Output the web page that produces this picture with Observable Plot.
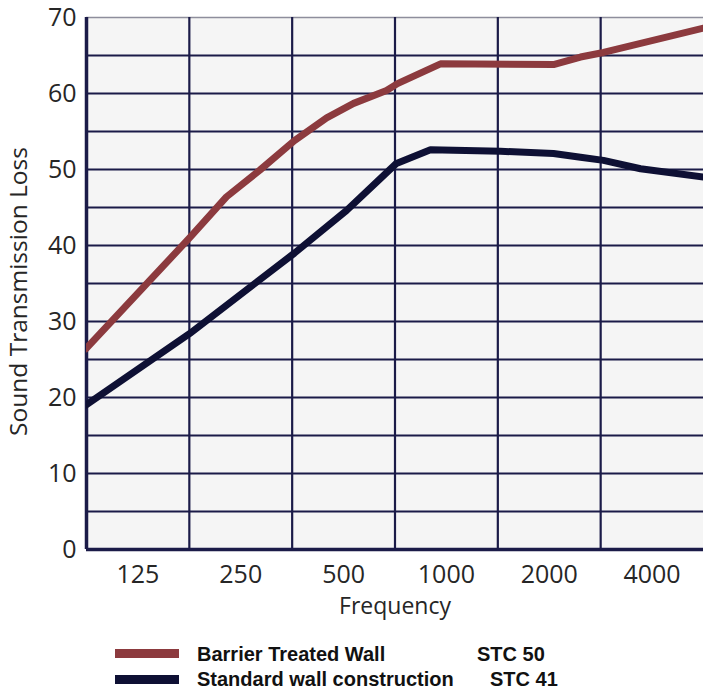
<!DOCTYPE html>
<html>
<head>
<meta charset="utf-8">
<script src="https://cdn.jsdelivr.net/npm/d3@7"></script>
<script src="https://cdn.jsdelivr.net/npm/@observablehq/plot@0.6"></script>
<style>
  html, body { margin: 0; padding: 0; background: #ffffff; }
  #legend { position: relative; width: 703px; height: 55px; font-family: "Liberation Sans", Arial, sans-serif; font-weight: bold; font-size: 20px; color: #111111; }
  #legend div { position: absolute; white-space: nowrap; line-height: 20px; }
</style>
</head>
<body>
<div id="chart"></div>
<div id="legend"></div>
<script>
// ---- data ----
const freqTicks = [125, 250, 500, 1000, 2000, 4000];
const lossTicks = [0, 10, 20, 30, 40, 50, 60, 70];
const lossGrid = [0, 5, 10, 15, 20, 25, 30, 35, 40, 45, 50, 55, 60, 65, 70];

const barrierFreq = [88, 177, 227, 284, 359, 446, 535, 668, 719, 961, 2058, 2469, 2883, 5657];
const barrierLoss = [26.4, 41, 46.4, 49.9, 53.8, 56.8, 58.7, 60.4, 61.3, 63.9, 63.8, 64.8, 65.4, 68.6];

const standardFreq = [88, 177, 359, 510, 714, 898, 1440, 2058, 2469, 2883, 3701, 5657];
const standardLoss = [19, 28.4, 39, 44.6, 50.8, 52.6, 52.4, 52.1, 51.6, 51.2, 50.1, 49];

const seriesNames = ["Barrier Treated Wall", "Standard wall construction"];
const seriesStc = ["STC 50", "STC 41"];
const seriesColors = ["#8c3a3e", "#0e1034"];

// ---- derived tables ----
const barrier = barrierFreq.map((f, i) => ({f, v: barrierLoss[i]}));
const standard = standardFreq.map((f, i) => ({f, v: standardLoss[i]}));
const bandEdges = freqTicks.map(f => f / Math.SQRT2).concat([freqTicks[freqTicks.length - 1] * Math.SQRT2]);

const gridColor = "#1b1b48";
const textColor = "#262626";

const chart = Plot.plot({
  width: 703,
  height: 635,
  marginLeft: 86,
  marginRight: 0,
  marginTop: 17,
  marginBottom: 86,
  style: {fontFamily: "'Open Sans', sans-serif", background: "#ffffff", overflow: "visible"},
  x: {type: "log", base: 2, domain: [bandEdges[0], bandEdges[bandEdges.length - 1]]},
  y: {domain: [0, 70]},
  marks: [
    Plot.frame({fill: "#f5f5f5", stroke: null}),
    Plot.ruleY(lossGrid.filter(d => d > 0 && d < 70), {stroke: gridColor, strokeWidth: 2}),
    Plot.ruleY([70], {stroke: "#8e8e9c", strokeWidth: 1.5}),
    Plot.ruleX(bandEdges.slice(1, -1), {stroke: gridColor, strokeWidth: 2.2}),
    Plot.ruleX([bandEdges[0]], {stroke: gridColor, strokeWidth: 3.5}),
    Plot.ruleY([0], {stroke: gridColor, strokeWidth: 3.5}),
    Plot.line(standard, {x: "f", y: "v", stroke: seriesColors[1], strokeWidth: 7, strokeLinejoin: "round", clip: true}),
    Plot.line(barrier, {x: "f", y: "v", stroke: seriesColors[0], strokeWidth: 7, strokeLinejoin: "round", clip: true}),
    Plot.axisX({ticks: freqTicks, tickFormat: d => String(d), tickSize: 0, tickPadding: 16, fontSize: 25, fill: textColor, label: null}),
    Plot.axisY({ticks: lossTicks, tickFormat: d => String(d), tickSize: 0, tickPadding: 10, fontSize: 25, fill: textColor, label: null}),
    Plot.text(["Sound Transmission Loss"], {frameAnchor: "left", textAnchor: "middle", lineAnchor: "middle", rotate: -90, dx: -67, dy: 8, fontSize: 24.5, fill: textColor}),
    Plot.text(["Frequency"], {frameAnchor: "bottom", textAnchor: "middle", lineAnchor: "middle", dy: 57, fontSize: 23, fill: textColor})
  ]
});
document.getElementById("chart").appendChild(chart);

// ---- legend ----
const legend = document.getElementById("legend");
const stcLeft = [477, 490];
seriesNames.forEach((name, i) => {
  const sw = document.createElement("div");
  sw.style.left = "115px";
  sw.style.top = (14 + 26 * i) + "px";
  sw.style.width = "64px";
  sw.style.height = "9px";
  sw.style.background = seriesColors[i];
  legend.appendChild(sw);
  const t = document.createElement("div");
  t.style.left = "197px";
  t.style.top = (9 + 25 * i) + "px";
  t.textContent = name;
  legend.appendChild(t);
  const s = document.createElement("div");
  s.style.left = stcLeft[i] + "px";
  s.style.top = (9 + 25 * i) + "px";
  s.textContent = seriesStc[i];
  legend.appendChild(s);
});
</script>
</body>
</html>
